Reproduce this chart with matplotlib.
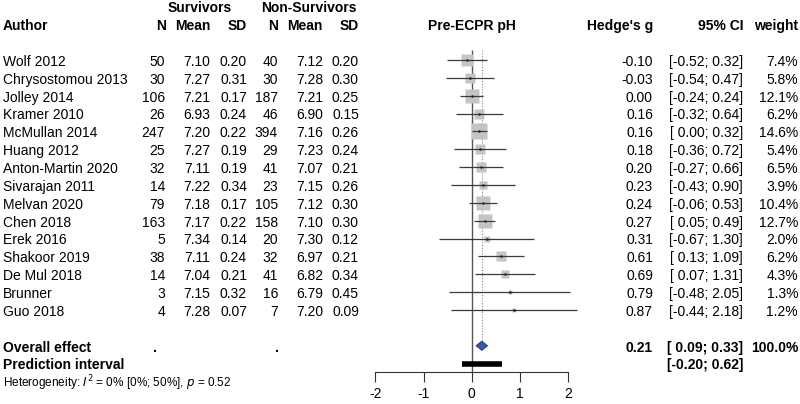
#!/usr/bin/env python3
"""
Forest plot - Pre-ECPR pH, survivors vs non-survivors
"""
import numpy as np
import matplotlib
matplotlib.use("Agg")
import matplotlib.pyplot as plt
from matplotlib.transforms import blended_transform_factory
from matplotlib.patches import Polygon

plt.rcParams['font.family'] = ['Liberation Sans', 'DejaVu Sans']

# 연구별 데이터
authors = ["Wolf 2012", "Chrysostomou 2013", "Jolley 2014", "Kramer 2010",
           "McMullan 2014", "Huang 2012", "Anton-Martin 2020", "Sivarajan 2011",
           "Melvan 2020", "Chen 2018", "Erek 2016", "Shakoor 2019",
           "De Mul 2018", "Brunner", "Guo 2018"]
n_surv = [50, 30, 106, 26, 247, 25, 32, 14, 79, 163, 5, 38, 14, 3, 4]
mean_surv = [7.10, 7.27, 7.21, 6.93, 7.20, 7.27, 7.11, 7.22, 7.18, 7.17, 7.34, 7.11, 7.04, 7.15, 7.28]
sd_surv = [0.20, 0.31, 0.17, 0.24, 0.22, 0.19, 0.19, 0.34, 0.17, 0.22, 0.14, 0.24, 0.21, 0.32, 0.07]
n_non = [40, 30, 187, 46, 394, 29, 41, 23, 105, 158, 20, 32, 41, 16, 7]
mean_non = [7.12, 7.28, 7.21, 6.90, 7.16, 7.23, 7.07, 7.15, 7.12, 7.10, 7.30, 6.97, 6.82, 6.79, 7.20]
sd_non = [0.20, 0.30, 0.25, 0.15, 0.26, 0.24, 0.21, 0.26, 0.30, 0.30, 0.12, 0.21, 0.34, 0.45, 0.09]
hedges_g = [-0.10, -0.03, 0.00, 0.16, 0.16, 0.18, 0.20, 0.23, 0.24, 0.27, 0.31, 0.61, 0.69, 0.79, 0.87]
ci_low = [-0.52, -0.54, -0.24, -0.32, 0.00, -0.36, -0.27, -0.43, -0.06, 0.05, -0.67, 0.13, 0.07, -0.48, -0.44]
ci_high = [0.32, 0.47, 0.24, 0.64, 0.32, 0.72, 0.66, 0.90, 0.53, 0.49, 1.30, 1.09, 1.31, 2.05, 2.18]
weights = [7.4, 5.8, 12.1, 6.2, 14.6, 5.4, 6.5, 3.9, 10.4, 12.7, 2.0, 6.2, 4.3, 1.3, 1.2]

# 통합 효과
overall_g = 0.21
overall_ci = (0.09, 0.33)
overall_weight = 100.0
pred_int = (-0.20, 0.62)
x_ticks = [-2, -1, 0, 1, 2]

W, H = 800, 404
fig = plt.figure(figsize=(W / 100, H / 100), dpi=100)

# forest 영역: x=0 -> 471.7px, 48.15 px/unit, row i -> 60 + 17.86*i px
px_unit = 48.15
x0_px = 471.7
xmin, xmax = -2.5, 2.5
left_px = x0_px + xmin * px_unit
ax = fig.add_axes([left_px / W, 0, (xmax - xmin) * px_unit / W, 1])
row_h = 17.86
ax.set_xlim(xmin, xmax)
ax.set_ylim((H - 60) / row_h, -60 / row_h)
ax.patch.set_alpha(0)

for s in ['top', 'right', 'left']:
    ax.spines[s].set_visible(False)
ax.spines['bottom'].set_position(('data', 17.47))
ax.spines['bottom'].set_bounds(x_ticks[0], x_ticks[-1])
ax.spines['bottom'].set_color('#333333')
ax.set_xticks(x_ticks)
ax.set_xticklabels([str(t) for t in x_ticks], fontsize=10)
ax.tick_params(axis='x', direction='out', length=7, width=0.8, color='#333333', pad=4)
ax.set_yticks([])

rows = np.arange(len(authors))
overall_row = len(authors) + 1
pred_row = overall_row + 1
het_row = pred_row + 1

# 기준선
ax.vlines(0, -0.56, 17.47, color='#555555', lw=1.0)
ax.vlines(overall_g, -0.56, overall_row, color='#888888', lw=0.8, linestyles=(0, (1, 1.5)))

# 개별 연구
w = np.array(weights)
sizes = 11.5 * np.sqrt(w / w.max())
for i in rows:
    ax.plot(hedges_g[i], i, marker='s', ms=sizes[i], color='#c4c4c4', mec='none', zorder=2)
    ax.hlines(i, ci_low[i], ci_high[i], color='#3a3a3a', lw=0.9, zorder=3)
    ax.plot(hedges_g[i], i, marker='o', ms=1.8, color='#222222', mec='none', zorder=4)

# 다이아몬드 + 예측구간
dh = 0.26
diamond = Polygon([(overall_ci[0], overall_row), (overall_g, overall_row - dh),
                   (overall_ci[1], overall_row), (overall_g, overall_row + dh)],
                  closed=True, facecolor='#3f55a8', edgecolor='#1f2f70', lw=0.6, zorder=5)
ax.add_patch(diamond)
ax.hlines(pred_row, pred_int[0], pred_int[1], color='black', lw=4, zorder=5)

# 텍스트 컬럼
tr = blended_transform_factory(fig.transFigure, ax.transData)
dy = 0.1  # va='center' 보정


def put(xpx, row, s, ha='right', bold=False, size=10, **kw):
    ax.text(xpx / W, row + dy, s, transform=tr, ha=ha, va='center', fontsize=size,
            fontweight='bold' if bold else 'normal', clip_on=False, **kw)


# 헤더
put(200, -3, "Survivors", ha='center', bold=True)
put(309, -3, "Non-Survivors", ha='center', bold=True)
put(3, -2, "Author", ha='left', bold=True)
for xpx, lab in [(166, "N"), (211, "Mean"), (247, "SD"), (278, "N"), (323, "Mean"), (359, "SD")]:
    put(xpx, -2, lab, bold=True)
put(472, -2, "Pre-ECPR pH", ha='center', bold=True)
put(653, -2, "Hedge's g", bold=True)
put(743, -2, "95% CI", bold=True)
put(798, -2, "weight", bold=True)

for i in rows:
    put(3, i, authors[i], ha='left')
    put(165, i, f"{n_surv[i]}")
    put(210, i, f"{mean_surv[i]:.2f}")
    put(247, i, f"{sd_surv[i]:.2f}")
    put(278, i, f"{n_non[i]}")
    put(323, i, f"{mean_non[i]:.2f}")
    put(359, i, f"{sd_non[i]:.2f}")
    put(653, i, f"{hedges_g[i]:.2f}")
    put(743, i, f"[{ci_low[i]:5.2f}; {ci_high[i]:.2f}]")
    put(798, i, f"{weights[i]:.1f}%")

put(3, overall_row, "Overall effect", ha='left', bold=True)
put(155, overall_row, ".", ha='center', bold=True)
put(277, overall_row, ".", ha='center', bold=True)
put(653, overall_row, f"{overall_g:.2f}", bold=True)
put(743, overall_row, f"[{overall_ci[0]:5.2f}; {overall_ci[1]:.2f}]", bold=True)
put(798, overall_row, f"{overall_weight:.1f}%", bold=True)

put(3, pred_row, "Prediction interval", ha='left', bold=True)
put(743, pred_row, f"[{pred_int[0]:5.2f}; {pred_int[1]:.2f}]", bold=True)

put(3, het_row, r"Heterogeneity: $\mathit{I}^2$ = 0% [0%; 50%], $\mathit{p}$ = 0.52",
    ha='left', size=8.5)

plt.savefig('out.png', dpi=100)
plt.close()
